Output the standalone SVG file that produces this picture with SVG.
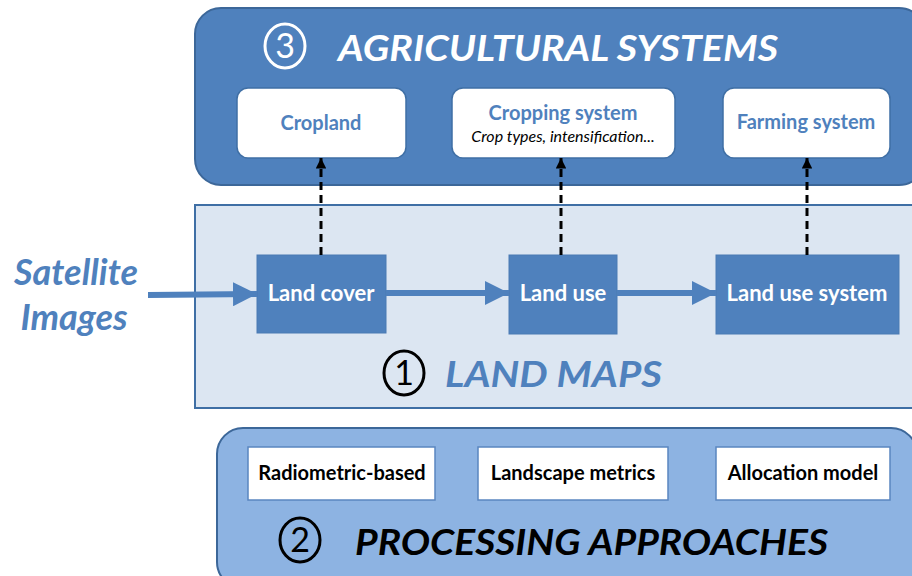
<svg xmlns="http://www.w3.org/2000/svg" width="912" height="576" viewBox="0 0 912 576">
<defs>
<style>
text{font-family:Lato,"Open Sans","Liberation Sans",sans-serif}
.title{font-size:37px;font-style:italic;font-weight:bold}
.num{font-size:34px;font-weight:normal}
.wnode{fill:#fff;stroke:#3f6fa5;stroke-width:1.5}
.wlab{fill:#4f81bd;font-size:20px;font-weight:bold;text-anchor:middle}
.bnode{fill:#4f81bd;stroke:#4a7ab3;stroke-width:1}
.blab{fill:#fff;font-size:22px;font-weight:bold;text-anchor:middle}
.pnode{fill:#fff;stroke:#5a86c0;stroke-width:1.5}
.plab{fill:#000;font-size:20px;font-weight:bold;text-anchor:middle}
.sat{font-size:36px;font-style:italic;font-weight:bold;fill:#4f81bd;text-anchor:middle}
.solid{stroke:#4f81bd;stroke-width:6;fill:none}
.dash{stroke:#000;stroke-width:3;stroke-dasharray:8,5;fill:none}
</style>
<marker id="ba" viewBox="0 0 10 10" refX="10" refY="5" markerWidth="4" markerHeight="4" orient="auto" markerUnits="strokeWidth"><path d="M0,0L10,5L0,10z" fill="#4f81bd"/></marker>
<marker id="ka" viewBox="0 0 10 10" refX="10" refY="5" markerWidth="3.5" markerHeight="3.5" orient="auto" markerUnits="strokeWidth"><path d="M0,0L10,5L0,10z" fill="#000"/></marker>
</defs>
<rect width="912" height="576" fill="#fff"/>
<g id="agricultural-systems">
<rect x="195" y="8" width="730" height="177" rx="26" fill="#4f81bd" stroke="#3c6799" stroke-width="2"/>
<ellipse cx="285" cy="46" rx="20" ry="22" fill="none" stroke="#fff" stroke-width="3"/>
<text x="285" y="58" class="num" fill="#fff" text-anchor="middle">3</text>
<text x="338" y="61" class="title" fill="#fff" textLength="440" lengthAdjust="spacingAndGlyphs">AGRICULTURAL SYSTEMS</text>
</g>
<g id="cropland"><rect x="237" y="88" width="169" height="70" rx="11" class="wnode"/><text x="321" y="130" class="wlab">Cropland</text></g>
<g id="cropping-system"><rect x="452" y="88" width="223" height="70" rx="11" class="wnode"/><text x="563" y="120" class="wlab">Cropping system</text><text x="563" y="142" font-size="16" font-style="italic" text-anchor="middle" fill="#000">Crop types, intensification...</text></g>
<g id="farming-system"><rect x="723" y="88" width="167" height="70" rx="11" class="wnode"/><text x="806" y="129" class="wlab">Farming system</text></g>
<g id="land-maps">
<rect x="195" y="205" width="730" height="203" fill="#dce6f2" stroke="#3f6fa5" stroke-width="2"/>
<ellipse cx="404" cy="373" rx="20" ry="22" fill="none" stroke="#000" stroke-width="3"/>
<text x="404" y="385" class="num" fill="#000" text-anchor="middle">1</text>
<text x="445" y="387" class="title" fill="#4f81bd" textLength="217" lengthAdjust="spacingAndGlyphs">LAND MAPS</text>
</g>
<g id="satellite-images">
<text x="76" y="285" class="sat">Satellite</text>
<text x="74" y="330" class="sat">Images</text>
</g>
<g id="land-cover"><rect x="257" y="255" width="129" height="78" class="bnode"/><text x="321" y="301" class="blab">Land cover</text></g>
<g id="land-use"><rect x="509" y="255" width="108" height="79" class="bnode"/><text x="563" y="301" class="blab">Land use</text></g>
<g id="land-use-system"><rect x="716" y="255" width="183" height="79" class="bnode"/><text x="807" y="301" class="blab">Land use system</text></g>
<g id="processing-approaches">
<rect x="217" y="428" width="700" height="160" rx="26" fill="#8db3e2" stroke="#3c6799" stroke-width="2"/>
<ellipse cx="300" cy="540" rx="20" ry="22" fill="none" stroke="#000" stroke-width="3"/>
<text x="300" y="552" class="num" fill="#000" text-anchor="middle">2</text>
<text x="355" y="555" class="title" fill="#000" textLength="473" lengthAdjust="spacingAndGlyphs">PROCESSING APPROACHES</text>
</g>
<g id="radiometric-based"><rect x="248" y="447" width="187" height="53" class="pnode"/><text x="342" y="480" class="plab">Radiometric-based</text></g>
<g id="landscape-metrics"><rect x="478" y="447" width="190" height="53" class="pnode"/><text x="573" y="480" class="plab">Landscape metrics</text></g>
<g id="allocation-model"><rect x="716" y="447" width="174" height="53" class="pnode"/><text x="803" y="480" class="plab">Allocation model</text></g>
<g id="connectors">
<line x1="148" y1="295" x2="257" y2="294" class="solid" marker-end="url(#ba)"/>
<line x1="386" y1="293" x2="509" y2="293" class="solid" marker-end="url(#ba)"/>
<line x1="617" y1="293" x2="716" y2="293" class="solid" marker-end="url(#ba)"/>
<line x1="321" y1="255" x2="321" y2="158" class="dash" marker-end="url(#ka)"/>
<line x1="561" y1="255" x2="561" y2="158" class="dash" marker-end="url(#ka)"/>
<line x1="807" y1="255" x2="807" y2="158" class="dash" marker-end="url(#ka)"/>
</g>
</svg>
